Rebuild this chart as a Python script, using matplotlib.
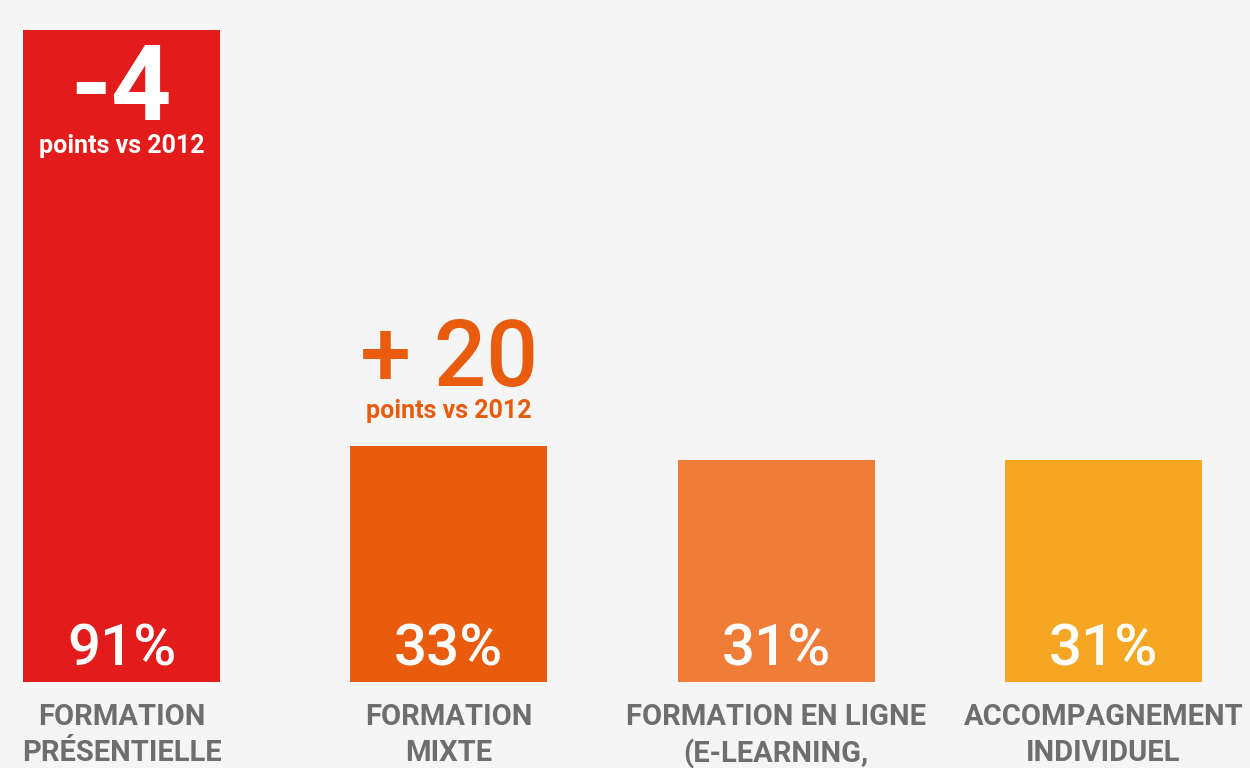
import matplotlib
matplotlib.use("Agg")
import matplotlib.pyplot as plt

categories = ["FORMATION\nPRÉSENTIELLE", "FORMATION\nMIXTE",
              "FORMATION EN LIGNE\n(E-LEARNING,", "ACCOMPAGNEMENT\nINDIVIDUEL"]
values = [91, 33, 31, 31]
value_labels = ["91%", "33%", "31%", "31%"]
changes = {0: "-4", 1: "+ 20"}
change_sub = "points vs 2012"
colors = ["#e31b1a", "#e95c0d", "#ef7d38", "#f5a623"]
bg = "#f5f5f5"
label_color = "#6e6e6e"

plt.rcParams['font.family'] = ['Roboto', 'DejaVu Sans']

fig = plt.figure(figsize=(12.5, 7.68), dpi=100, facecolor=bg)
ax = fig.add_axes([0, 0, 1, 1])
ax.set_facecolor(bg)
spacing = 327.33
ppu = 7.165
ax.set_xlim(-121.5 / spacing, (1250 - 121.5) / spacing)
ax.set_ylim(-86 / ppu, 682 / ppu)
ax.axis("off")

x = list(range(len(values)))
ax.bar(x, values, width=197 / spacing, color=colors)

for i, (v, lab) in enumerate(zip(values, value_labels)):
    ax.text(i, 32 / ppu, lab, ha="center", va="center", color="white",
            fontsize=42, fontweight="medium")
    ax.text(i, -21 / ppu, categories[i], ha="center", va="top", color=label_color,
            fontsize=21, fontweight="bold", linespacing=1.35)

# change annotations
ax.text(0, values[0] - 90 / ppu, changes[0], ha="center", va="baseline",
        color="white", fontsize=76, fontweight="bold")
ax.text(0, values[0] - 123 / ppu, change_sub, ha="center", va="baseline",
        color="white", fontsize=18, fontweight="bold")
ax.text(1, values[1] + 60 / ppu, changes[1], ha="center", va="baseline",
        color=colors[1], fontsize=66, fontweight="medium")
ax.text(1, values[1] + 28 / ppu, change_sub, ha="center", va="baseline",
        color=colors[1], fontsize=18, fontweight="bold")

fig.savefig("out.png", dpi=100, facecolor=bg)
